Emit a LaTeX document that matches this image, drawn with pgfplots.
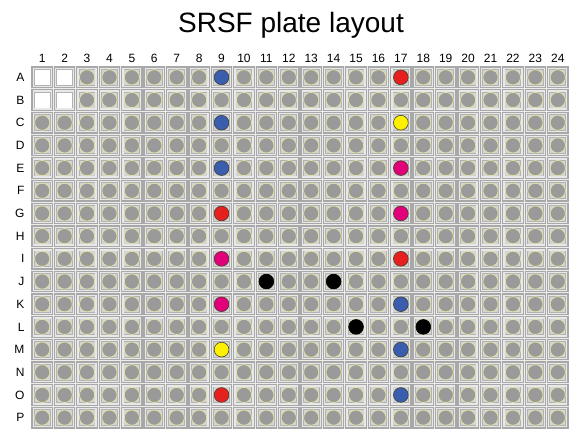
\documentclass[border=0pt]{standalone}
\usepackage{pgfplots}
\pgfplotsset{compat=1.18}
\usepackage{fontspec}
\setmainfont{Liberation Sans}
\definecolor{platebg}{HTML}{ECECEC}
\definecolor{cellouter}{HTML}{A8A8A8}
\definecolor{cellband}{HTML}{E8E8E8}
\definecolor{cellinb}{HTML}{B2B2B2}
\definecolor{cellinner}{HTML}{D4D4D4}
\definecolor{wellgray}{HTML}{9A9A9A}
\definecolor{wellrim}{HTML}{E6E4A0}
\definecolor{cblue}{HTML}{3A5DAE}
\definecolor{cred}{HTML}{E5201E}
\definecolor{cyellow}{HTML}{FFF000}
\definecolor{cmag}{HTML}{E2007A}
\pgfdeclareplotmark{cellbase}{%
  \pgfpathrectangle{\pgfpoint{-10.8pt}{-10.9pt}}{\pgfpoint{21.6pt}{21.8pt}}%
  \pgfsetfillcolor{cellouter}\pgfusepath{fill}%
  \pgfpathrectangle{\pgfpoint{-9.6pt}{-9.6pt}}{\pgfpoint{19.2pt}{19.2pt}}%
  \pgfsetfillcolor{cellband}\pgfusepath{fill}%
  \pgfpathrectangle{\pgfpoint{-8.3pt}{-8.3pt}}{\pgfpoint{16.6pt}{16.6pt}}%
  \pgfsetfillcolor{cellinb}\pgfusepath{fill}%
}
\pgfdeclareplotmark{well}{%
  \pgfuseplotmark{cellbase}%
  \pgfpathrectangle{\pgfpoint{-7.5pt}{-7.5pt}}{\pgfpoint{15pt}{15pt}}%
  \pgfsetfillcolor{cellinner}\pgfusepath{fill}%
  \pgfpathcircle{\pgfpointorigin}{7.6pt}%
  \pgfsetfillcolor{wellgray}\pgfsetstrokecolor{wellrim}\pgfsetlinewidth{0.7pt}\pgfusepath{fill,stroke}%
}
\pgfdeclareplotmark{emptywell}{%
  \pgfuseplotmark{cellbase}%
  \pgfpathrectangle{\pgfpoint{-7.5pt}{-7.5pt}}{\pgfpoint{15pt}{15pt}}%
  \pgfsetfillcolor{white}\pgfusepath{fill}%
}
\begin{document}
\begin{tikzpicture}
\begin{axis}[name=ax,
  width=538pt, height=363pt, scale only axis,
  xmin=0.5, xmax=24.5, ymin=0.5, ymax=16.5, y dir=reverse,
  xtick={1,...,24}, ytick={1,...,16},
  yticklabels={A,B,C,D,E,F,G,H,I,J,K,L,M,N,O,P},
  xticklabel pos=upper,
  axis line style={draw=none}, major tick length=0pt,
  tick label style={font=\fontsize{12}{14}\selectfont},
  yticklabel style={xshift=-3pt},
  /pgf/number format/assume math mode=true,
  clip=false,
  axis background/.style={fill=platebg},
  title={SRSF plate layout},
  title style={at={(0.5,1)}, anchor=base, yshift=27pt, xshift=-9pt, font=\fontsize{28}{32}\selectfont},
]
\addplot[only marks, mark=well] coordinates {
(3,1) (4,1) (5,1) (6,1) (7,1) (8,1) (9,1) (10,1) (11,1) (12,1) (13,1) (14,1) (15,1) (16,1) (17,1) (18,1) (19,1) (20,1) (21,1) (22,1) (23,1) (24,1)
(3,2) (4,2) (5,2) (6,2) (7,2) (8,2) (9,2) (10,2) (11,2) (12,2) (13,2) (14,2) (15,2) (16,2) (17,2) (18,2) (19,2) (20,2) (21,2) (22,2) (23,2) (24,2)
(1,3) (2,3) (3,3) (4,3) (5,3) (6,3) (7,3) (8,3) (9,3) (10,3) (11,3) (12,3) (13,3) (14,3) (15,3) (16,3) (17,3) (18,3) (19,3) (20,3) (21,3) (22,3) (23,3) (24,3)
(1,4) (2,4) (3,4) (4,4) (5,4) (6,4) (7,4) (8,4) (9,4) (10,4) (11,4) (12,4) (13,4) (14,4) (15,4) (16,4) (17,4) (18,4) (19,4) (20,4) (21,4) (22,4) (23,4) (24,4)
(1,5) (2,5) (3,5) (4,5) (5,5) (6,5) (7,5) (8,5) (9,5) (10,5) (11,5) (12,5) (13,5) (14,5) (15,5) (16,5) (17,5) (18,5) (19,5) (20,5) (21,5) (22,5) (23,5) (24,5)
(1,6) (2,6) (3,6) (4,6) (5,6) (6,6) (7,6) (8,6) (9,6) (10,6) (11,6) (12,6) (13,6) (14,6) (15,6) (16,6) (17,6) (18,6) (19,6) (20,6) (21,6) (22,6) (23,6) (24,6)
(1,7) (2,7) (3,7) (4,7) (5,7) (6,7) (7,7) (8,7) (9,7) (10,7) (11,7) (12,7) (13,7) (14,7) (15,7) (16,7) (17,7) (18,7) (19,7) (20,7) (21,7) (22,7) (23,7) (24,7)
(1,8) (2,8) (3,8) (4,8) (5,8) (6,8) (7,8) (8,8) (9,8) (10,8) (11,8) (12,8) (13,8) (14,8) (15,8) (16,8) (17,8) (18,8) (19,8) (20,8) (21,8) (22,8) (23,8) (24,8)
(1,9) (2,9) (3,9) (4,9) (5,9) (6,9) (7,9) (8,9) (9,9) (10,9) (11,9) (12,9) (13,9) (14,9) (15,9) (16,9) (17,9) (18,9) (19,9) (20,9) (21,9) (22,9) (23,9) (24,9)
(1,10) (2,10) (3,10) (4,10) (5,10) (6,10) (7,10) (8,10) (9,10) (10,10) (11,10) (12,10) (13,10) (14,10) (15,10) (16,10) (17,10) (18,10) (19,10) (20,10) (21,10) (22,10) (23,10) (24,10)
(1,11) (2,11) (3,11) (4,11) (5,11) (6,11) (7,11) (8,11) (9,11) (10,11) (11,11) (12,11) (13,11) (14,11) (15,11) (16,11) (17,11) (18,11) (19,11) (20,11) (21,11) (22,11) (23,11) (24,11)
(1,12) (2,12) (3,12) (4,12) (5,12) (6,12) (7,12) (8,12) (9,12) (10,12) (11,12) (12,12) (13,12) (14,12) (15,12) (16,12) (17,12) (18,12) (19,12) (20,12) (21,12) (22,12) (23,12) (24,12)
(1,13) (2,13) (3,13) (4,13) (5,13) (6,13) (7,13) (8,13) (9,13) (10,13) (11,13) (12,13) (13,13) (14,13) (15,13) (16,13) (17,13) (18,13) (19,13) (20,13) (21,13) (22,13) (23,13) (24,13)
(1,14) (2,14) (3,14) (4,14) (5,14) (6,14) (7,14) (8,14) (9,14) (10,14) (11,14) (12,14) (13,14) (14,14) (15,14) (16,14) (17,14) (18,14) (19,14) (20,14) (21,14) (22,14) (23,14) (24,14)
(1,15) (2,15) (3,15) (4,15) (5,15) (6,15) (7,15) (8,15) (9,15) (10,15) (11,15) (12,15) (13,15) (14,15) (15,15) (16,15) (17,15) (18,15) (19,15) (20,15) (21,15) (22,15) (23,15) (24,15)
(1,16) (2,16) (3,16) (4,16) (5,16) (6,16) (7,16) (8,16) (9,16) (10,16) (11,16) (12,16) (13,16) (14,16) (15,16) (16,16) (17,16) (18,16) (19,16) (20,16) (21,16) (22,16) (23,16) (24,16)
};
\addplot[only marks, mark=emptywell] coordinates {(1,1) (2,1) (1,2) (2,2)};
% coloured wells
\addplot[only marks, mark=*, mark size=7.4pt, mark options={fill=cblue, draw=black!75, line width=0.6pt}]
  coordinates {(9,1) (9,3) (9,5) (17,11) (17,13) (17,15)};
\addplot[only marks, mark=*, mark size=7.4pt, mark options={fill=cred, draw=black!75, line width=0.6pt}]
  coordinates {(17,1) (9,7) (17,9) (9,15)};
\addplot[only marks, mark=*, mark size=7.4pt, mark options={fill=cyellow, draw=black!75, line width=0.6pt}]
  coordinates {(17,3) (9,13)};
\addplot[only marks, mark=*, mark size=7.4pt, mark options={fill=cmag, draw=black!75, line width=0.6pt}]
  coordinates {(17,5) (17,7) (9,9) (9,11)};
\addplot[only marks, mark=*, mark size=7.4pt, mark options={fill=black, draw=black, line width=0.6pt}]
  coordinates {(11,10) (14,10) (15,12) (18,12)};
\end{axis}
\path ([xshift=-31pt,yshift=-1pt]ax.south west) rectangle ([xshift=1pt,yshift=66pt]ax.north east);
\end{tikzpicture}
\end{document}
